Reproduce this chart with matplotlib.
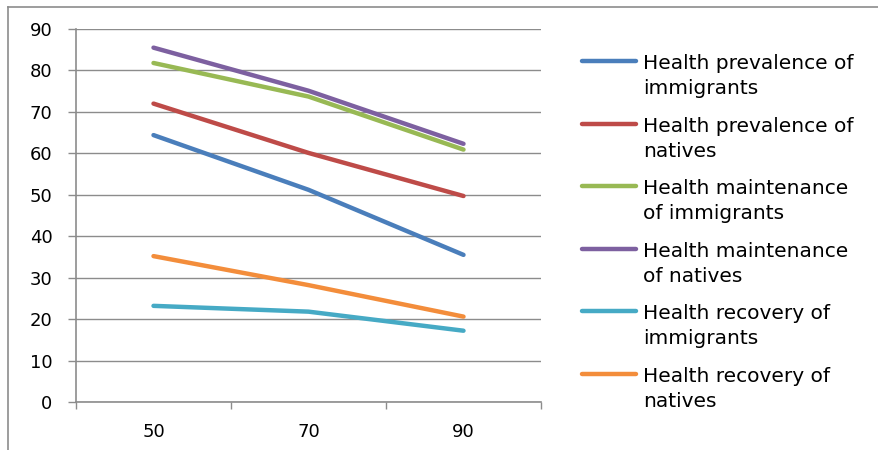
import matplotlib
matplotlib.use("Agg")
import matplotlib.pyplot as plt
from matplotlib.lines import Line2D

categories = ["50", "70", "90"]
series_lines = [
    ("Health prevalence of", "immigrants"),
    ("Health prevalence of", "natives"),
    ("Health maintenance", "of immigrants"),
    ("Health maintenance", "of natives"),
    ("Health recovery of", "immigrants"),
    ("Health recovery of", "natives"),
]
prev_imm = [64.4, 51.2, 35.5]
prev_nat = [72.0, 60.1, 49.7]
main_imm = [81.8, 73.7, 60.9]
main_nat = [85.5, 75.1, 62.3]
rec_imm = [23.2, 21.8, 17.2]
rec_nat = [35.2, 28.2, 20.6]
series = [prev_imm, prev_nat, main_imm, main_nat, rec_imm, rec_nat]
colors = ["#4A7EBB", "#BE4B48", "#98B954", "#7D60A0", "#46AAC5", "#F38D3B"]
yticks = [0, 10, 20, 30, 40, 50, 60, 70, 80, 90]

W, H = 879, 450
fig = plt.figure(figsize=(W / 100, H / 100), dpi=100)
ax = fig.add_axes([76 / W, 1 - 402 / H, (541 - 76) / W, (402 - 29) / H])

x = list(range(len(categories)))
for vals, c in zip(series, colors):
    ax.plot(x, vals, color=c, lw=3.2, solid_capstyle="round", zorder=3)

ax.set_xlim(-0.5, len(categories) - 0.5)
ax.set_ylim(0, 90)
ax.set_yticks(yticks)
ax.set_yticklabels([str(v) for v in yticks], fontsize=13, family="DejaVu Sans")
ax.yaxis.grid(True, color="#8c8c8c", lw=1.0)
ax.set_axisbelow(True)

ax.set_xticks([i - 0.5 for i in range(len(categories) + 1)])
ax.set_xticklabels([""] * (len(categories) + 1))
ax.set_xticks(x, minor=True)
ax.set_xticklabels(categories, minor=True, fontsize=13, family="DejaVu Sans")
ax.tick_params(axis="x", which="minor", length=0, pad=15)
ax.tick_params(axis="x", which="major", length=5, color="#8c8c8c", width=1)
ax.tick_params(axis="y", length=6, color="#8c8c8c", width=1, pad=11)

for s in ["top", "right"]:
    ax.spines[s].set_visible(False)
for s in ["left", "bottom"]:
    ax.spines[s].set_color("#8c8c8c")
    ax.spines[s].set_linewidth(1.2)

# outer chart border (top and left visible)
fig.add_artist(Line2D([8 / W, 1], [1 - 7 / H, 1 - 7 / H], transform=fig.transFigure, color="#8c8c8c", lw=1.2))
fig.add_artist(Line2D([8 / W, 8 / W], [0, 1 - 7 / H], transform=fig.transFigure, color="#8c8c8c", lw=1.2))

# legend
y0 = 61
dy = 62.6
for i, ((l1, l2), c) in enumerate(zip(series_lines, colors)):
    yh = y0 + i * dy
    fig.add_artist(Line2D([582 / W, 636 / W], [1 - yh / H, 1 - yh / H], transform=fig.transFigure,
                          color=c, lw=3.2, solid_capstyle="round"))
    fig.text(643 / W, 1 - (yh + 8) / H, l1, fontsize=14.5, family="DejaVu Sans", va="baseline", ha="left")
    fig.text(643 / W, 1 - (yh + 33) / H, l2, fontsize=14.5, family="DejaVu Sans", va="baseline", ha="left")
fig.savefig("out.png", dpi=100)
